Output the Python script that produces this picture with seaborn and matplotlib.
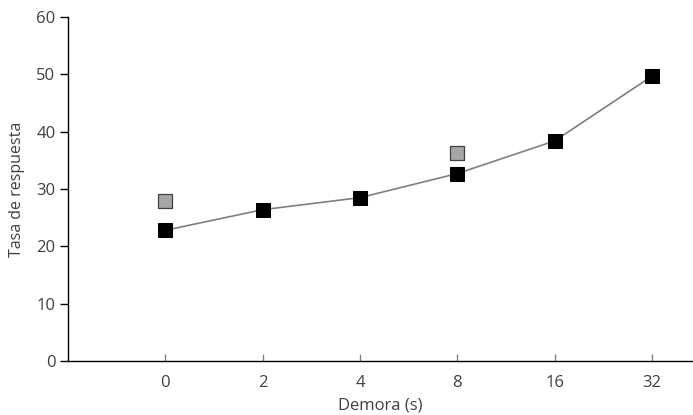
import numpy as np
import pandas as pd
import matplotlib
matplotlib.use("Agg")
import matplotlib.pyplot as plt
import seaborn as sns

# data
delays = ["0", "2", "4", "8", "16", "32"]
rate_main = [22.8, 26.4, 28.5, 32.7, 38.4, 49.7]
gray_delays = ["0", "8"]
rate_gray = [28.0, 36.3]

sns.set_style("white")
plt.rcParams['font.family'] = ['Open Sans', 'DejaVu Sans']
text_col = "#404040"

pos = {d: i for i, d in enumerate(delays)}
df_main = pd.DataFrame({"x": [pos[d] for d in delays], "y": rate_main})
df_gray = pd.DataFrame({"x": [pos[d] for d in gray_delays], "y": rate_gray})

fig = plt.figure(figsize=(6.93, 4.15), dpi=100)
ax = fig.add_axes([0.098, 0.130, 0.902, 0.829])

sns.lineplot(data=df_main, x="x", y="y", ax=ax, color="#7f7f7f", linewidth=1.2,
             marker="s", markersize=9.5, markerfacecolor="black",
             markeredgecolor="black", zorder=3)
sns.scatterplot(data=df_gray, x="x", y="y", ax=ax, marker="s", s=90,
                color="#a6a6a6", edgecolor="#404040", linewidth=0.9, zorder=4)

ax.set_xlim(-1.0, 5.42)
ax.set_ylim(0, 60)
ax.set_yticks(range(0, 61, 10))
ax.set_xticks(range(len(delays)))
ax.set_xticklabels(delays)

for side in ["top", "right"]:
    ax.spines[side].set_visible(False)
for side in ["left", "bottom"]:
    ax.spines[side].set_color("black")
    ax.spines[side].set_linewidth(1.0)

ax.tick_params(axis="y", direction="out", length=6, width=1, color="black",
               labelsize=12, labelcolor=text_col, pad=3, left=True)
ax.tick_params(axis="x", direction="in", length=5, width=1, color="#808080",
               labelsize=12, labelcolor=text_col, pad=10, bottom=True)

ax.set_xlabel("Demora (s)", fontsize=12, color=text_col, labelpad=5)
ax.set_ylabel("Tasa de respuesta", fontsize=11.5, color=text_col, labelpad=8)

fig.savefig("out.png", dpi=100)
